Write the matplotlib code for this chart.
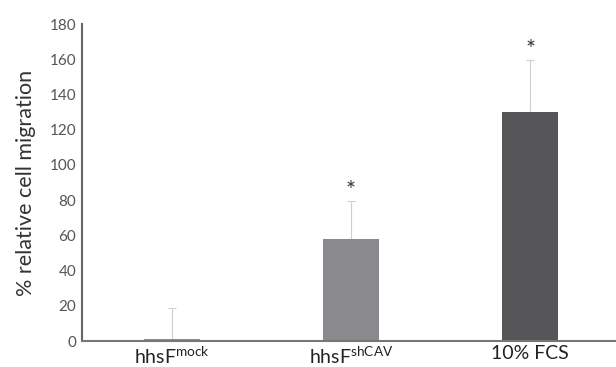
import matplotlib
matplotlib.use("Agg")
import matplotlib.pyplot as plt

categories = ["hhsF$^{\\mathrm{mock}}$", "hhsF$^{\\mathrm{shCAV}}$", "10% FCS"]
values = [1, 58, 130]
errors = [18, 21.5, 29.5]
stars = ["", "*", "*"]
colors = ["#8c8c8e", "#8a8a8c", "#565658"]
yticks = [0, 20, 40, 60, 80, 100, 120, 140, 160, 180]

plt.rcParams['font.family'] = ['Lato', 'DejaVu Sans']
plt.rcParams['mathtext.fontset'] = 'custom'
plt.rcParams['mathtext.rm'] = 'Lato'
plt.rcParams['mathtext.it'] = 'Lato:italic'

fig = plt.figure(figsize=(6.16, 3.67), dpi=100)
ax = fig.add_axes([0.133, 0.0708, 0.867, 0.8638])

x = list(range(len(categories)))
ax.bar(x, values, width=0.31, color=colors, zorder=2)
ax.errorbar(x, values, yerr=[[0]*len(values), errors], fmt='none',
            ecolor='#d0d0d0', elinewidth=0.8, capsize=3, capthick=0.8, zorder=1)
for xi, v, e, s in zip(x, values, errors, stars):
    if s:
        ax.text(xi, v + e + 6, s, ha='center', va='center', fontsize=17, color='#333333')

ax.set_xlim(-0.503, 2.48)
ax.set_ylim(0, 180)
ax.set_yticks(yticks)
ax.set_xticks(x)
ax.set_xticklabels(categories, fontsize=14, color='#222222')
ax.tick_params(axis='y', length=0, labelsize=11, colors='#555555', pad=4)
ax.tick_params(axis='x', length=0, pad=3)
ax.set_ylabel("% relative cell migration", fontsize=15.5, color='#333333', labelpad=10)
for sp in ['top', 'right']:
    ax.spines[sp].set_visible(False)
ax.spines['left'].set_color('#666666')
ax.spines['left'].set_linewidth(1.5)
ax.spines['bottom'].set_color('#777777')
ax.spines['bottom'].set_linewidth(1.5)

fig.savefig("out.png", dpi=100)
